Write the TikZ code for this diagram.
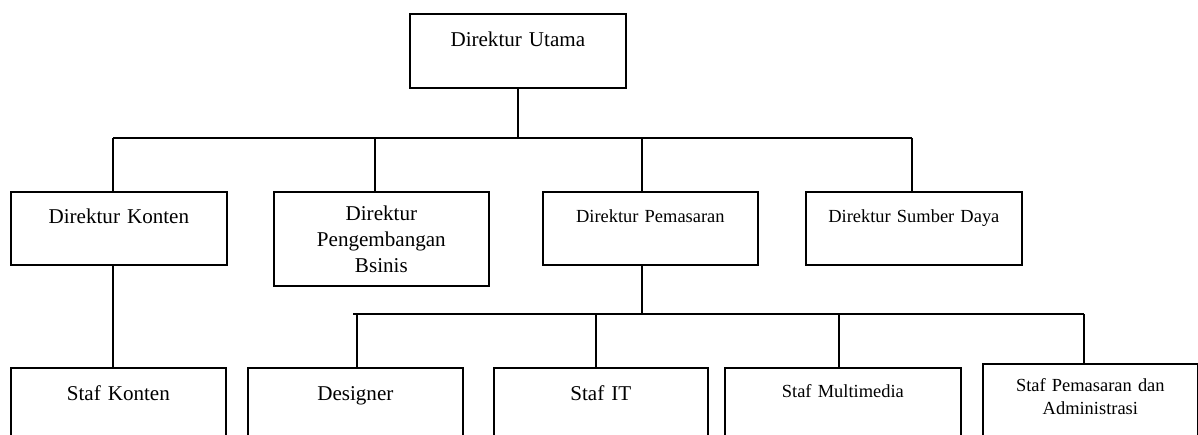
\documentclass[tikz,border=0pt]{standalone}
\usepackage{fontspec}
\setmainfont{Liberation Serif}
\begin{document}
\begin{tikzpicture}[x=0.02cm,y=-0.02cm]
        \tikzset{orgbox/.style={draw,line width=1pt,inner sep=0pt,anchor=north west,align=center},
            bigtext/.style={font=\fontsize{12}{14.8}\selectfont},
            smalltext/.style={font=\fontsize{10.5}{13}\selectfont},
            link/.style={line width=1pt}};
        \useasboundingbox (0,0) rectangle (1198,434);
        \clip (0,0) rectangle (1198,434);
        \node[orgbox,bigtext,text width=4.32cm,text height=0.66cm,text depth=0.82cm] (utama) at (409,13) {Direktur Utama};
        \node[orgbox,bigtext,text width=4.32cm,text height=0.64cm,text depth=0.82cm] (konten) at (10,191) {Direktur Konten};
        \node[orgbox,bigtext,text width=4.3cm,minimum height=1.88cm] (bisnis) at (273,191) {Direktur\\Pengembangan\\Bsinis};
        \node[orgbox,smalltext,text width=4.3cm,text height=0.62cm,text depth=0.84cm] (pemasaran) at (542,191) {Direktur Pemasaran};
        \node[orgbox,smalltext,text width=4.32cm,text height=0.62cm,text depth=0.84cm] (sumber) at (805,191) {Direktur Sumber Daya};
        \node[orgbox,bigtext,text width=4.3cm,text height=0.66cm,text depth=1.4cm] (stafkonten) at (10,367) {Staf Konten};
        \node[orgbox,bigtext,text width=4.3cm,text height=0.66cm,text depth=1.4cm] (designer) at (247,367) {Designer};
        \node[orgbox,bigtext,text width=4.28cm,text height=0.66cm,text depth=1.4cm] (stafit) at (493,367) {Staf IT};
        \node[orgbox,smalltext,text width=4.72cm,text height=0.6cm,text depth=1.4cm] (multimedia) at (724,367) {Staf Multimedia};
        \node[orgbox,smalltext,text width=4.3cm,text height=0.56cm,text depth=1.5cm] (admin) at (982,363) {Staf Pemasaran dan\\Administrasi};
        \coordinate (busa) at (113,138);
        \coordinate (busb) at (912,138);
        \coordinate (busc) at (353,314);
        \coordinate (busd) at (1084,314);
        \draw[link] (utama.south) -- (utama.south |- busa);
        \draw[link] (busa) -- (busb);
        \foreach \x/\n in {113/konten,375/bisnis,642/pemasaran,912/sumber}
            \draw[link] (\x,138) -- (\x,138 |- \n.north);
        \draw[link] (113,0 |- konten.south) -- (113,0 |- stafkonten.north);
        \draw[link] (642,0 |- pemasaran.south) -- (642,314);
        \draw[link] (busc) -- (busd);
        \foreach \x/\n in {357/designer,596/stafit,839/multimedia,1084/admin}
            \draw[link] (\x,314) -- (\x,314 |- \n.north);
    \end{tikzpicture}
\end{document}
